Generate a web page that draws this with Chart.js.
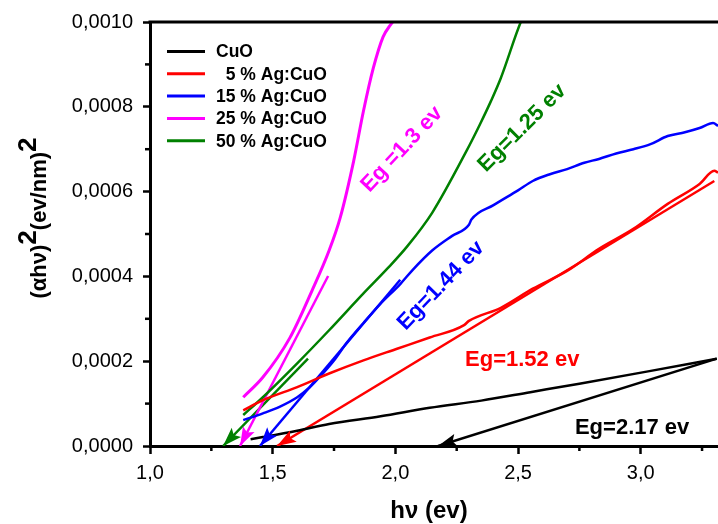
<!DOCTYPE html>
<html>
<head>
<meta charset="utf-8">
<script src="https://cdn.jsdelivr.net/npm/chart.js@4.4.1/dist/chart.umd.min.js"></script>
<style>
  html, body { margin: 0; padding: 0; background: #fff; }
  #wrap { width: 718px; height: 524px; }
</style>
</head>
<body>
<div id="wrap"><canvas id="chart" width="718" height="524"></canvas></div>
<script>
const FONT = "'Liberation Sans', Arial, sans-serif";

// photon energy (eV) and (alpha h nu)^2
const cuoE = [1.41, 1.46, 1.60, 1.73, 1.94, 2.14, 2.35, 2.55, 2.75, 3.03, 3.31];
const cuoA = [0.000016, 0.000021, 0.000036, 0.000052, 0.000070, 0.000090, 0.000107, 0.000127, 0.000147, 0.000176, 0.000206];

const ag5E = [1.38, 1.46, 1.60, 1.73, 1.87, 2.01, 2.14, 2.28, 2.30, 2.43, 2.56, 2.70, 2.83, 2.97, 3.11, 3.24, 3.30, 3.315];
const ag5A = [0.000084, 0.000108, 0.000139, 0.000171, 0.000202, 0.000230, 0.000256, 0.000285, 0.000295, 0.000326, 0.000371, 0.000413, 0.000465, 0.000512, 0.000571, 0.000618, 0.000649, 0.000645];

const ag15E = [1.38, 1.46, 1.53, 1.60, 1.65, 1.69, 1.75, 1.80, 1.87, 1.94, 2.02, 2.07, 2.15, 2.23, 2.30, 2.31, 2.40, 2.50, 2.56, 2.63, 2.70, 2.77, 2.83, 2.90, 2.97, 3.04, 3.11, 3.18, 3.24, 3.295, 3.315];
const ag15A = [0.000061, 0.000077, 0.000093, 0.000115, 0.000138, 0.000162, 0.000202, 0.000242, 0.000290, 0.000336, 0.000382, 0.000415, 0.000461, 0.000495, 0.000522, 0.000534, 0.000568, 0.000603, 0.000625, 0.000641, 0.000653, 0.000668, 0.000677, 0.000690, 0.000700, 0.000712, 0.000731, 0.000740, 0.000750, 0.000762, 0.000755];

const ag25E = [1.38, 1.46, 1.57, 1.66, 1.73, 1.775, 1.83, 1.87, 1.91, 1.95, 1.98, 2.00];
const ag25A = [0.000115, 0.000162, 0.000255, 0.000366, 0.000461, 0.000538, 0.000672, 0.000790, 0.000891, 0.000965, 0.000993, 0.001008];

const ag50E = [1.38, 1.46, 1.60, 1.73, 1.87, 1.97, 2.05, 2.15, 2.29, 2.345, 2.39, 2.43, 2.51, 2.52];
const ag50A = [0.000073, 0.000115, 0.000195, 0.000273, 0.000360, 0.000420, 0.000472, 0.000550, 0.000696, 0.000759, 0.000814, 0.000868, 0.000998, 0.001010];

// linear fits: start point, then the Eg intercept where the arrow ends
const cuoFitE = [3.31, 2.174];
const cuoFitA = [0.000206, 0];
const ag5FitE = [3.30, 1.518];
const ag5FitA = [0.000625, 0];
const ag15FitE = [2.02, 1.448];
const ag15FitA = [0.000392, 0];
const ag25FitE = [1.726, 1.367];
const ag25FitA = [0.000401, 0];
const ag50FitE = [1.644, 1.298];
const ag50FitA = [0.000206, 0];

const seriesNames = ['CuO', '  5 % Ag:CuO', '15 % Ag:CuO', '25 % Ag:CuO', '50 % Ag:CuO'];
const seriesColors = ['#000000', '#ff0000', '#0000ff', '#ff00ff', '#008000'];

const gapLabels = ['Eg=2.17 ev', 'Eg=1.52 ev', 'Eg=1.44 ev', 'Eg =1.3 ev', 'Eg=1.25 ev'];
const gapLabelE = [2.965, 2.517, 2.186, 2.027, 2.517];
const gapLabelA = [0.000042, 0.000204, 0.000378, 0.000700, 0.000750];
const gapLabelAngle = [0, 0, -46, -47, -45];

const pts = (xs, ys) => xs.map((x, i) => ({ x, y: ys[i] }));

const curves = [[cuoE, cuoA], [ag5E, ag5A], [ag15E, ag15A], [ag25E, ag25A], [ag50E, ag50A]];
const fits = [[cuoFitE, cuoFitA], [ag5FitE, ag5FitA], [ag15FitE, ag15FitA], [ag25FitE, ag25FitA], [ag50FitE, ag50FitA]];

const datasets = [];
curves.forEach(([xs, ys], i) => {
	datasets.push({
		label: seriesNames[i],
		data: pts(xs, ys),
		borderColor: seriesColors[i],
		borderWidth: i === 3 ? 3 : 2.5,
		pointRadius: 0,
		cubicInterpolationMode: 'monotone',
		inLegend: true
	});
});
fits.forEach(([xs, ys], i) => {
	datasets.push({
		label: seriesNames[i] + ' fit',
		data: pts(xs, ys),
		borderColor: seriesColors[i],
		borderWidth: 2.5,
		pointRadius: 0,
		tension: 0,
		arrow: true
	});
});

// arrow heads, minor ticks, frame top, legend, gap labels, axis titles
const decorations = {
	id: 'decorations',
	afterDatasetsDraw(chart) {
		const ctx = chart.ctx;
		chart.data.datasets.forEach((ds, i) => {
			if (!ds.arrow) return;
			const pts = chart.getDatasetMeta(i).data;
			const a = pts[pts.length - 2], b = pts[pts.length - 1];
			const ang = Math.atan2(b.y - a.y, b.x - a.x);
			const len = 19, half = 6.5;
			ctx.save();
			ctx.fillStyle = ds.borderColor;
			ctx.translate(b.x, b.y);
			ctx.rotate(ang);
			ctx.beginPath();
			ctx.moveTo(0, 0);
			ctx.lineTo(-len, -half);
			ctx.lineTo(-len * 0.8, 0);
			ctx.lineTo(-len, half);
			ctx.closePath();
			ctx.fill();
			ctx.restore();
		});
	},
	afterDraw(chart) {
		const ctx = chart.ctx;
		const area = chart.chartArea;
		const xs = chart.scales.x, ys = chart.scales.y;

		ctx.save();
		// top frame line
		ctx.strokeStyle = '#000';
		ctx.lineWidth = 3;
		ctx.beginPath();
		ctx.moveTo(area.left - 1.5, area.top);
		ctx.lineTo(area.right, area.top);
		ctx.stroke();

		// minor ticks
		ctx.lineWidth = 2.5;
		const xt = xs.ticks.map((t) => t.value);
		const xStep = xt[1] - xt[0];
		xt.forEach((v) => {
			const m = v + xStep / 2;
			if (m > xs.max) return;
			const p = xs.getPixelForValue(m);
			ctx.beginPath();
			ctx.moveTo(p, area.bottom);
			ctx.lineTo(p, area.bottom + 5);
			ctx.stroke();
		});
		const yt = ys.ticks.map((t) => t.value);
		const yStep = yt[1] - yt[0];
		yt.forEach((v) => {
			const m = v + yStep / 2;
			if (m > ys.max) return;
			const p = ys.getPixelForValue(m);
			ctx.beginPath();
			ctx.moveTo(area.left, p);
			ctx.lineTo(area.left - 5, p);
			ctx.stroke();
		});

		// legend
		ctx.font = 'bold 17.5px ' + FONT;
		ctx.textBaseline = 'middle';
		ctx.textAlign = 'left';
		let row = 0;
		chart.data.datasets.forEach((ds) => {
			if (!ds.inLegend) return;
			const y = area.top + 29.5 + row * 22.3;
			ctx.strokeStyle = ds.borderColor;
			ctx.lineWidth = 3;
			ctx.beginPath();
			ctx.moveTo(area.left + 17, y);
			ctx.lineTo(area.left + 55, y);
			ctx.stroke();
			ctx.fillStyle = '#000';
			ctx.fillText(ds.label, area.left + 66, y + 1);
			row++;
		});

		// band gap labels
		ctx.font = 'bold 22px ' + FONT;
		ctx.textAlign = 'center';
		ctx.textBaseline = 'middle';
		gapLabels.forEach((t, i) => {
			ctx.save();
			ctx.translate(xs.getPixelForValue(gapLabelE[i]), ys.getPixelForValue(gapLabelA[i]));
			ctx.rotate(gapLabelAngle[i] * Math.PI / 180);
			ctx.fillStyle = seriesColors[i];
			ctx.fillText(t, 0, 0);
			ctx.restore();
		});

		// x title
		ctx.fillStyle = '#000';
		ctx.font = 'bold 24px ' + FONT;
		ctx.textAlign = 'center';
		ctx.textBaseline = 'alphabetic';
		ctx.fillText('hν (ev)', 429, 518);

		// y title with raised 2s
		const parts = [['(αhν)', 22, 0], ['2', 26, -10], ['(ev/nm)', 22, 0], ['2', 26, -10]];
		let total = 0;
		parts.forEach((p) => {
			ctx.font = 'bold ' + p[1] + 'px ' + FONT;
			p.push(ctx.measureText(p[0]).width);
			total += p[3];
		});
		ctx.save();
		ctx.translate(46, 218);
		ctx.rotate(-Math.PI / 2);
		ctx.textAlign = 'left';
		let cx = -total / 2;
		parts.forEach((p) => {
			ctx.font = 'bold ' + p[1] + 'px ' + FONT;
			ctx.fillText(p[0], cx, p[2]);
			cx += p[3];
		});
		ctx.restore();
		ctx.restore();
	}
};

new Chart(document.getElementById('chart'), {
	type: 'line',
	data: { datasets },
	options: {
		responsive: false,
		animation: false,
		layout: { padding: { top: 21, right: 0, left: 0, bottom: 0 } },
		plugins: {
			legend: { display: false },
			tooltip: { enabled: false }
		},
		scales: {
			x: {
				type: 'linear',
				min: 1,
				max: 3.315,
				border: { color: '#000', width: 3 },
				grid: { drawOnChartArea: false, drawTicks: true, tickLength: 8, tickColor: '#000', tickWidth: 2.5 },
				ticks: {
					stepSize: 0.5,
					includeBounds: false,
					autoSkip: false,
					maxRotation: 0,
					padding: 7,
					color: '#000',
					font: { family: FONT, size: 20 },
					callback: (v) => v.toFixed(1).replace('.', ',')
				},
				afterFit: (s) => { s.height = 78; }
			},
			y: {
				type: 'linear',
				min: 0,
				max: 0.001,
				border: { color: '#000', width: 3 },
				grid: { drawOnChartArea: false, drawTicks: true, tickLength: 7, tickColor: '#000', tickWidth: 2.5 },
				ticks: {
					stepSize: 0.0002,
					includeBounds: false,
					autoSkip: false,
					padding: 10,
					color: '#000',
					font: { family: FONT, size: 20 },
					callback: (v) => v.toFixed(4).replace('.', ',')
				},
				afterFit: (s) => { s.width = 150; }
			}
		}
	},
	plugins: [decorations]
});
</script>
</body>
</html>
